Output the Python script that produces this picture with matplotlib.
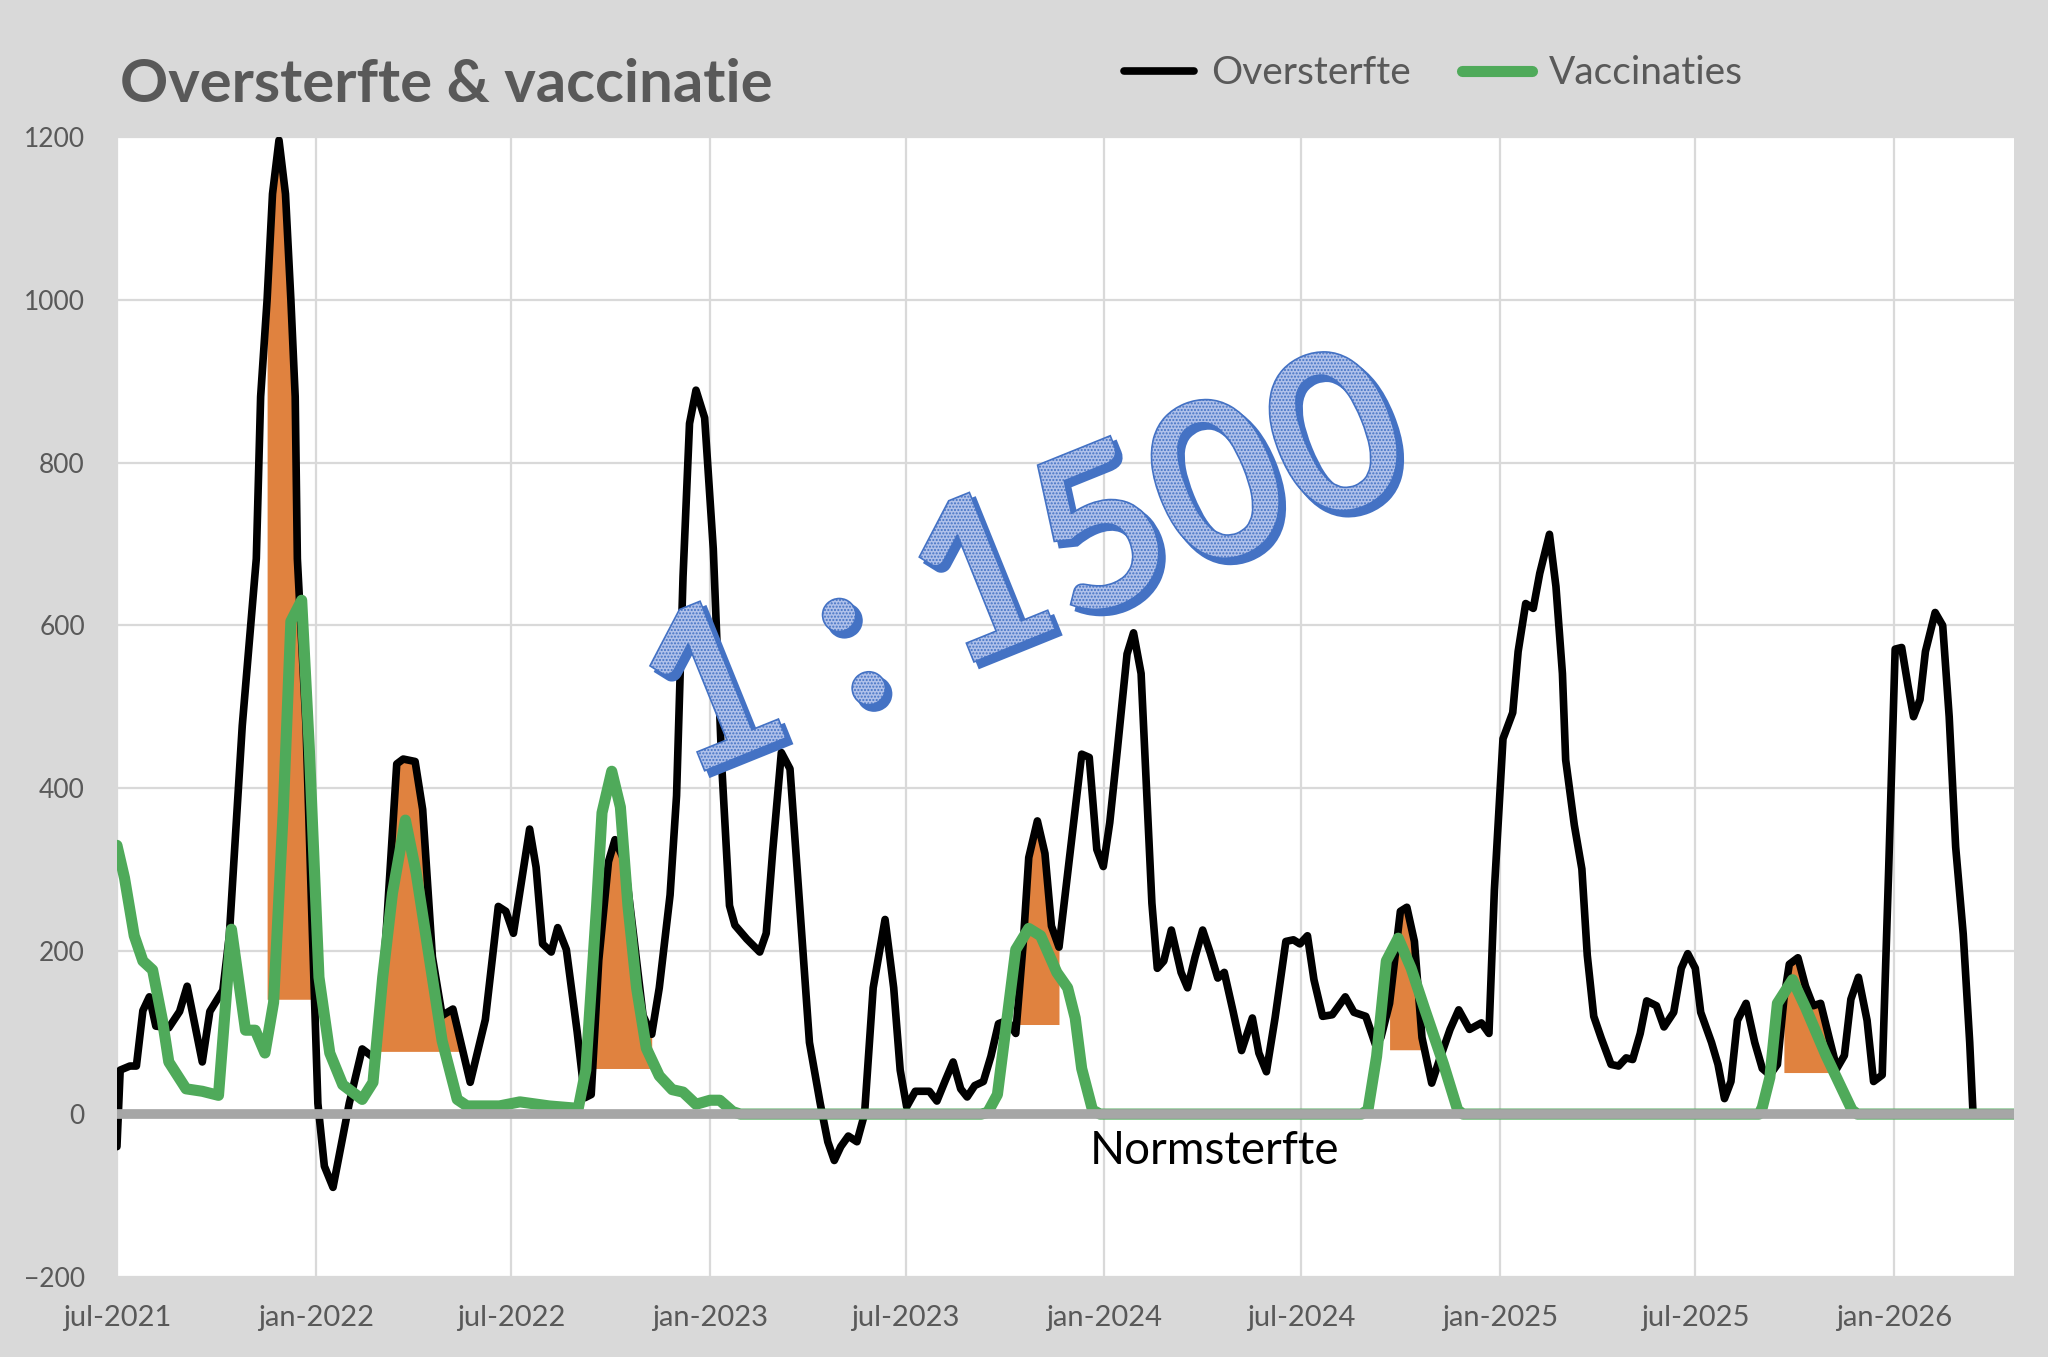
import numpy as np
import pandas as pd
import matplotlib
matplotlib.use("Agg")
import matplotlib.pyplot as plt
import matplotlib.dates as mdates
import matplotlib.patheffects as pe
from matplotlib.lines import Line2D
from matplotlib.ticker import FuncFormatter

plt.rcParams['font.family'] = ['Lato', 'DejaVu Sans']

start = pd.Timestamp("2021-07-01")

# oversterfte (dagen sinds jul-2021, waarde)
overst_days = [0, 3, 12, 18, 24, 30, 36, 48, 58, 65, 79, 86, 98, 104, 110, 116, 129, 133, 139, 144,
               150, 156, 161, 165, 167, 175, 181, 186, 192, 200, 215, 227, 240, 249, 259, 265, 276, 283,
               292, 301, 311, 327, 341, 353, 360, 367, 382, 388, 394, 402, 408, 416, 426, 433, 439, 446,
               455, 461, 470, 478, 487, 495, 502, 512, 518, 524, 530, 536, 544, 552, 560, 567, 572, 583,
               595, 601, 607, 615, 623, 632, 641, 651, 658, 664, 670, 677, 685, 692, 700, 711, 719, 725,
               731, 739, 752, 759, 767, 774, 781, 787, 794, 802, 809, 816, 824, 832, 839, 844, 852, 859,
               865, 872, 878, 887, 893, 900, 907, 913, 919, 926, 935, 941, 948, 953, 958, 963, 969, 976,
               985, 991, 998, 1005, 1012, 1019, 1025, 1033, 1041, 1051, 1057, 1064, 1072, 1082, 1089,
               1095, 1102, 1108, 1116, 1125, 1137, 1145, 1156, 1165, 1170, 1178, 1188, 1194, 1201, 1208,
               1217, 1224, 1234, 1242, 1252, 1263, 1270, 1275, 1283, 1292, 1297, 1304, 1311, 1317, 1326,
               1332, 1338, 1341, 1349, 1356, 1361, 1367, 1374, 1383, 1390, 1397, 1403, 1410, 1416, 1425,
               1432, 1441, 1448, 1454, 1461, 1466, 1476, 1482, 1488, 1494, 1500, 1508, 1516, 1523, 1530,
               1537, 1543, 1548, 1556, 1563, 1570, 1577, 1585, 1592, 1599, 1605, 1612, 1620, 1626, 1634,
               1640, 1646, 1652, 1658, 1663, 1669, 1674, 1683, 1690, 1696, 1702, 1709, 1715, 1718]
overst_vals = [-40, 54, 59, 59, 127, 144, 108, 106, 126, 157, 64, 126, 152, 219, 348, 477, 682, 881, 1000, 1130,
               1196, 1130, 1000, 881, 682, 477, 219, 13, -64, -90, 13, 80, 67, 219, 430, 436, 433, 374,
               193, 121, 129, 39, 116, 255, 249, 222, 350, 303, 209, 199, 229, 202, 101, 20, 24, 189,
               310, 337, 310, 222, 121, 98, 155, 269, 391, 660, 848, 889, 855, 694, 424, 256, 232, 215,
               199, 222, 323, 444, 424, 256, 88, 13, -34, -57, -40, -27, -34, 0, 155, 239, 155, 54,
               9, 28, 28, 16, 42, 64, 31, 21, 35, 40, 71, 111, 115, 99, 212, 315, 360, 320,
               231, 205, 273, 376, 442, 438, 325, 304, 358, 447, 565, 591, 541, 400, 259, 179, 188, 226,
               174, 155, 193, 226, 198, 167, 174, 127, 78, 118, 75, 52, 118, 212, 214,
               209, 219, 165, 120, 122, 144, 125, 120, 85, 94, 136, 249, 254, 212, 94,
               38, 66, 104, 128, 104, 112, 99, 275, 461, 493, 568, 627, 621, 664, 712,
               648, 541, 435, 355, 301, 195, 120, 93, 61, 59, 69, 67, 99, 139, 133,
               107, 125, 179, 197, 179, 125, 88, 61, 19, 40, 115, 136, 88, 56, 48,
               61, 141, 184, 192, 157, 133, 136, 93, 56, 72, 141, 168, 115, 40, 48,
               301, 571, 573, 525, 488, 509, 568, 616, 600, 488, 328, 221, 88, 3]

# vaccinaties (geschaald 1:1500)
vacc_days = [0, 7, 16, 24, 33, 42, 48, 64, 79, 94, 106, 119, 128, 137, 145, 154, 161, 171, 178, 187,
             197, 209, 227, 237, 246, 255, 267, 277, 289, 301, 315, 324, 354, 373, 400, 427, 434, 444,
             449, 458, 466, 473, 481, 490, 502, 514, 524, 536, 549, 558, 570, 577, 800, 806, 815, 824, 832,
             844, 855, 870, 880, 887, 893, 903, 910, 1152, 1158, 1166, 1175, 1186, 1198, 1211, 1228, 1241,
             1246, 1520, 1523, 1530, 1537, 1551, 1563, 1582, 1606, 1611, 1756]
vacc_vals = [330, 290, 219, 188, 177, 116, 64, 31, 28, 23, 227, 103, 103, 75, 137, 374, 605, 631, 451, 168,
             75, 36, 18, 39, 168, 271, 361, 296, 193, 90, 18, 10, 10, 15, 10, 7, 54, 256,
             370, 421, 377, 256, 155, 81, 47, 30, 27, 12, 17, 17, 3, 0, 0, 2, 24, 118, 202,
             228, 219, 174, 155, 118, 56, 5, 0, 0, 5, 71, 188, 216, 179, 127, 61, 5,
             0, 0, 8, 45, 136, 165, 131, 72, 5, 0, 0]

# oranje vlakken: van dag, tot dag, basis
oranje_van = [137, 240, 433, 832, 1176, 1541]
oranje_tot = [186, 327, 496, 872, 1217, 1585]
oranje_basis = [141, 77, 56, 110, 79, 51]

y_ticks = [-200, 0, 200, 400, 600, 800, 1000, 1200]

gray_txt = "#595959"

od = start + pd.to_timedelta(np.array(overst_days), unit="D")
ov = np.array(overst_vals, dtype=float)
vd = start + pd.to_timedelta(np.array(vacc_days), unit="D")
vv = np.array(vacc_vals, dtype=float)
dd = np.array(overst_days)

fig = plt.figure(figsize=(20.48, 13.57), dpi=100, facecolor="#d9d9d9")
ax = fig.add_axes([0.0571, 0.0590, 0.9263, 0.8401])
ax.set_facecolor("white")

for a, b, base in zip(oranje_van, oranje_tot, oranje_basis):
    sel = (dd >= a) & (dd <= b)
    xs = od[sel]
    ys = ov[sel]
    ax.fill_between(xs, base, ys, where=ys >= base, interpolate=True,
                    color="#e0823f", lw=0, zorder=2)

ax.plot(od, ov, color="black", lw=5.5, solid_joinstyle="round", solid_capstyle="round", zorder=3)
ax.plot(vd, vv, color="#4faa5a", lw=8, solid_joinstyle="round", solid_capstyle="round", zorder=4)
ax.axhline(0, color="#a6a6a6", lw=7, zorder=5)

ax.set_ylim(-200, 1200)
ax.set_xlim(start, start + pd.Timedelta(days=1756))
ax.set_yticks(y_ticks)
ax.xaxis.set_major_locator(mdates.MonthLocator(bymonth=[1, 7]))
ax.xaxis.set_major_formatter(FuncFormatter(
    lambda x, pos: mdates.num2date(x).strftime("%b-%Y").lower()))
ax.grid(True, color="#d9d9d9", lw=1.6, zorder=0)
ax.set_axisbelow(True)
for s in ax.spines.values():
    s.set_visible(False)
ax.tick_params(axis="y", length=0, pad=23, labelsize=19, labelcolor=gray_txt)
ax.tick_params(axis="x", length=0, pad=20, labelsize=21, labelcolor=gray_txt)

ax.text(start + pd.Timedelta(days=1016), -45, "Normsterfte", fontsize=33,
        color="black", ha="center", va="center", zorder=6)

fig.text(0.0586, 0.9248, "Oversterfte & vaccinatie", fontsize=43, fontweight="bold",
         color=gray_txt, ha="left", va="baseline")

handles = [Line2D([], [], color="black", lw=5.5, solid_capstyle="round"),
           Line2D([], [], color="#4faa5a", lw=8, solid_capstyle="round")]
fig.legend(handles, ["Oversterfte", "Vaccinaties"], loc="center",
           bbox_to_anchor=(0.70, 0.946), ncol=2, frameon=False, fontsize=28,
           handlelength=1.8, handletextpad=0.45, columnspacing=1.3, labelcolor=gray_txt)

fig.text(0.502, 0.578, "1 : 1500", fontsize=158, family="Lato",
         fontweight="bold", rotation=22, ha="center", va="center", color="#aabde6",
         zorder=10,
         path_effects=[pe.PathPatchEffect(offset=(4, -4), facecolor="#4472c4",
                                          edgecolor="#4472c4", linewidth=2),
                       pe.PathPatchEffect(facecolor="#b0c1ea", edgecolor="#4472c4",
                                          hatch=".....", linewidth=1.2)])

fig.savefig("out.png", dpi=100, facecolor=fig.get_facecolor())
